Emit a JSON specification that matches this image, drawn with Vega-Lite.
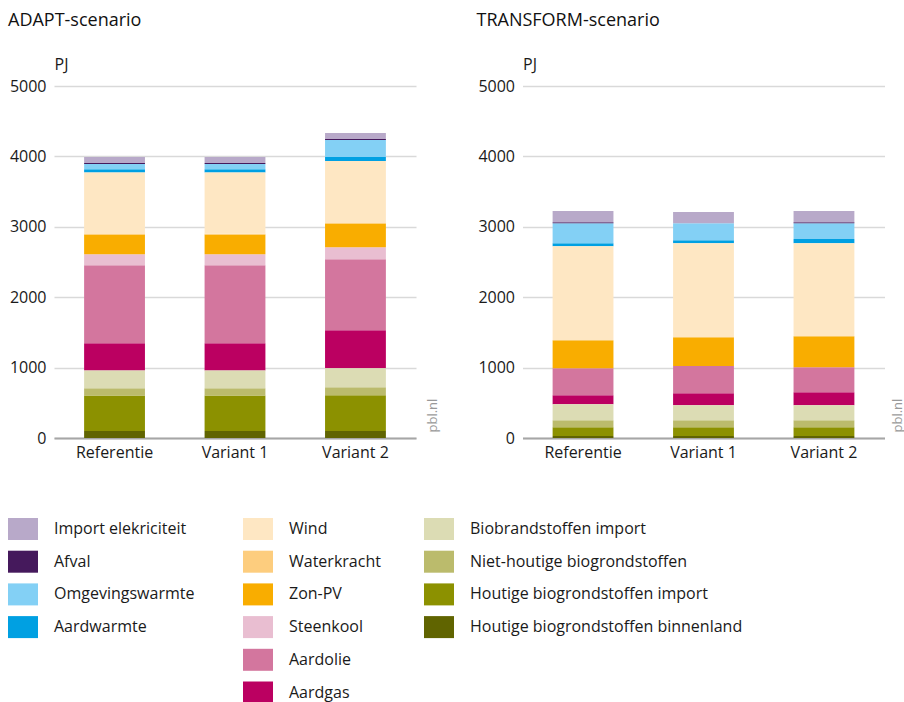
{
  "$schema": "https://vega.github.io/schema/vega-lite/v6.json",
  "padding": {"left": 8, "top": 12, "right": 0, "bottom": 0},
  "bounds": "flush",
  "spacing": 106.5,
  "config": {"font": "Open Sans", "view": {"stroke": null}, "text": {"font": "Open Sans"}},
  "data": {"values": [
    {"scenario": "ADAPT", "variant": "Referentie", "bron": "Houtige biogrondstoffen binnenland", "waarde": 100},
    {"scenario": "ADAPT", "variant": "Referentie", "bron": "Houtige biogrondstoffen import", "waarde": 505},
    {"scenario": "ADAPT", "variant": "Referentie", "bron": "Niet-houtige biogrondstoffen", "waarde": 100},
    {"scenario": "ADAPT", "variant": "Referentie", "bron": "Biobrandstoffen import", "waarde": 255},
    {"scenario": "ADAPT", "variant": "Referentie", "bron": "Aardgas", "waarde": 385},
    {"scenario": "ADAPT", "variant": "Referentie", "bron": "Aardolie", "waarde": 1110},
    {"scenario": "ADAPT", "variant": "Referentie", "bron": "Steenkool", "waarde": 155},
    {"scenario": "ADAPT", "variant": "Referentie", "bron": "Zon-PV", "waarde": 280},
    {"scenario": "ADAPT", "variant": "Referentie", "bron": "Waterkracht", "waarde": 8},
    {"scenario": "ADAPT", "variant": "Referentie", "bron": "Wind", "waarde": 875},
    {"scenario": "ADAPT", "variant": "Referentie", "bron": "Aardwarmte", "waarde": 45},
    {"scenario": "ADAPT", "variant": "Referentie", "bron": "Omgevingswarmte", "waarde": 75},
    {"scenario": "ADAPT", "variant": "Referentie", "bron": "Afval", "waarde": 15},
    {"scenario": "ADAPT", "variant": "Referentie", "bron": "Import elekriciteit", "waarde": 85},
    {"scenario": "ADAPT", "variant": "Variant 1", "bron": "Houtige biogrondstoffen binnenland", "waarde": 100},
    {"scenario": "ADAPT", "variant": "Variant 1", "bron": "Houtige biogrondstoffen import", "waarde": 505},
    {"scenario": "ADAPT", "variant": "Variant 1", "bron": "Niet-houtige biogrondstoffen", "waarde": 100},
    {"scenario": "ADAPT", "variant": "Variant 1", "bron": "Biobrandstoffen import", "waarde": 255},
    {"scenario": "ADAPT", "variant": "Variant 1", "bron": "Aardgas", "waarde": 385},
    {"scenario": "ADAPT", "variant": "Variant 1", "bron": "Aardolie", "waarde": 1110},
    {"scenario": "ADAPT", "variant": "Variant 1", "bron": "Steenkool", "waarde": 155},
    {"scenario": "ADAPT", "variant": "Variant 1", "bron": "Zon-PV", "waarde": 280},
    {"scenario": "ADAPT", "variant": "Variant 1", "bron": "Waterkracht", "waarde": 10},
    {"scenario": "ADAPT", "variant": "Variant 1", "bron": "Wind", "waarde": 873},
    {"scenario": "ADAPT", "variant": "Variant 1", "bron": "Aardwarmte", "waarde": 45},
    {"scenario": "ADAPT", "variant": "Variant 1", "bron": "Omgevingswarmte", "waarde": 75},
    {"scenario": "ADAPT", "variant": "Variant 1", "bron": "Afval", "waarde": 15},
    {"scenario": "ADAPT", "variant": "Variant 1", "bron": "Import elekriciteit", "waarde": 85},
    {"scenario": "ADAPT", "variant": "Variant 2", "bron": "Houtige biogrondstoffen binnenland", "waarde": 100},
    {"scenario": "ADAPT", "variant": "Variant 2", "bron": "Houtige biogrondstoffen import", "waarde": 507},
    {"scenario": "ADAPT", "variant": "Variant 2", "bron": "Niet-houtige biogrondstoffen", "waarde": 113},
    {"scenario": "ADAPT", "variant": "Variant 2", "bron": "Biobrandstoffen import", "waarde": 270},
    {"scenario": "ADAPT", "variant": "Variant 2", "bron": "Aardgas", "waarde": 541},
    {"scenario": "ADAPT", "variant": "Variant 2", "bron": "Aardolie", "waarde": 1009},
    {"scenario": "ADAPT", "variant": "Variant 2", "bron": "Steenkool", "waarde": 171},
    {"scenario": "ADAPT", "variant": "Variant 2", "bron": "Zon-PV", "waarde": 335},
    {"scenario": "ADAPT", "variant": "Variant 2", "bron": "Waterkracht", "waarde": 8},
    {"scenario": "ADAPT", "variant": "Variant 2", "bron": "Wind", "waarde": 880},
    {"scenario": "ADAPT", "variant": "Variant 2", "bron": "Aardwarmte", "waarde": 56},
    {"scenario": "ADAPT", "variant": "Variant 2", "bron": "Omgevingswarmte", "waarde": 242},
    {"scenario": "ADAPT", "variant": "Variant 2", "bron": "Afval", "waarde": 14},
    {"scenario": "ADAPT", "variant": "Variant 2", "bron": "Import elekriciteit", "waarde": 86},
    {"scenario": "TRANSFORM", "variant": "Referentie", "bron": "Houtige biogrondstoffen binnenland", "waarde": 30},
    {"scenario": "TRANSFORM", "variant": "Referentie", "bron": "Houtige biogrondstoffen import", "waarde": 122},
    {"scenario": "TRANSFORM", "variant": "Referentie", "bron": "Niet-houtige biogrondstoffen", "waarde": 99},
    {"scenario": "TRANSFORM", "variant": "Referentie", "bron": "Biobrandstoffen import", "waarde": 228},
    {"scenario": "TRANSFORM", "variant": "Referentie", "bron": "Aardgas", "waarde": 128},
    {"scenario": "TRANSFORM", "variant": "Referentie", "bron": "Aardolie", "waarde": 383},
    {"scenario": "TRANSFORM", "variant": "Referentie", "bron": "Zon-PV", "waarde": 399},
    {"scenario": "TRANSFORM", "variant": "Referentie", "bron": "Wind", "waarde": 1336},
    {"scenario": "TRANSFORM", "variant": "Referentie", "bron": "Aardwarmte", "waarde": 43},
    {"scenario": "TRANSFORM", "variant": "Referentie", "bron": "Omgevingswarmte", "waarde": 284},
    {"scenario": "TRANSFORM", "variant": "Referentie", "bron": "Afval", "waarde": 14},
    {"scenario": "TRANSFORM", "variant": "Referentie", "bron": "Import elekriciteit", "waarde": 157},
    {"scenario": "TRANSFORM", "variant": "Variant 1", "bron": "Houtige biogrondstoffen binnenland", "waarde": 30},
    {"scenario": "TRANSFORM", "variant": "Variant 1", "bron": "Houtige biogrondstoffen import", "waarde": 122},
    {"scenario": "TRANSFORM", "variant": "Variant 1", "bron": "Niet-houtige biogrondstoffen", "waarde": 99},
    {"scenario": "TRANSFORM", "variant": "Variant 1", "bron": "Biobrandstoffen import", "waarde": 213},
    {"scenario": "TRANSFORM", "variant": "Variant 1", "bron": "Aardgas", "waarde": 171},
    {"scenario": "TRANSFORM", "variant": "Variant 1", "bron": "Aardolie", "waarde": 389},
    {"scenario": "TRANSFORM", "variant": "Variant 1", "bron": "Zon-PV", "waarde": 407},
    {"scenario": "TRANSFORM", "variant": "Variant 1", "bron": "Wind", "waarde": 1337},
    {"scenario": "TRANSFORM", "variant": "Variant 1", "bron": "Aardwarmte", "waarde": 42},
    {"scenario": "TRANSFORM", "variant": "Variant 1", "bron": "Omgevingswarmte", "waarde": 242},
    {"scenario": "TRANSFORM", "variant": "Variant 1", "bron": "Import elekriciteit", "waarde": 157},
    {"scenario": "TRANSFORM", "variant": "Variant 2", "bron": "Houtige biogrondstoffen binnenland", "waarde": 30},
    {"scenario": "TRANSFORM", "variant": "Variant 2", "bron": "Houtige biogrondstoffen import", "waarde": 122},
    {"scenario": "TRANSFORM", "variant": "Variant 2", "bron": "Niet-houtige biogrondstoffen", "waarde": 99},
    {"scenario": "TRANSFORM", "variant": "Variant 2", "bron": "Biobrandstoffen import", "waarde": 213},
    {"scenario": "TRANSFORM", "variant": "Variant 2", "bron": "Aardgas", "waarde": 185},
    {"scenario": "TRANSFORM", "variant": "Variant 2", "bron": "Aardolie", "waarde": 356},
    {"scenario": "TRANSFORM", "variant": "Variant 2", "bron": "Zon-PV", "waarde": 440},
    {"scenario": "TRANSFORM", "variant": "Variant 2", "bron": "Wind", "waarde": 1323},
    {"scenario": "TRANSFORM", "variant": "Variant 2", "bron": "Aardwarmte", "waarde": 57},
    {"scenario": "TRANSFORM", "variant": "Variant 2", "bron": "Omgevingswarmte", "waarde": 227},
    {"scenario": "TRANSFORM", "variant": "Variant 2", "bron": "Afval", "waarde": 14},
    {"scenario": "TRANSFORM", "variant": "Variant 2", "bron": "Import elekriciteit", "waarde": 157}
  ]},
  "hconcat": [
    {
      "width": 362,
      "height": 352,
      "title": {"text": "ADAPT-scenario", "anchor": "start", "frame": "group", "dx": -46, "fontSize": 18, "fontWeight": "normal", "color": "#111111", "offset": 26},
      "transform": [
        {"filter": "datum.scenario === 'ADAPT'"},
        {"stack": "waarde", "groupby": ["variant"], "as": ["y0", "y1"]}
      ],
      "encoding": {
        "x": {"field": "variant", "type": "nominal", "sort": ["Referentie", "Variant 1", "Variant 2"],
          "scale": {"paddingInner": 0.495, "paddingOuter": 0.25},
          "axis": {"title": null, "labelAngle": 0, "ticks": false, "domainColor": "#a6a6a6", "domainWidth": 2, "labelFontSize": 16, "labelPadding": 6, "labelColor": "#1a1a1a"}}
      },
      "layer": [
        {
          "transform": [{"filter": {"field": "bron", "oneOf": ["Import elekriciteit", "Afval", "Omgevingswarmte", "Aardwarmte"]}}],
          "mark": {"type": "bar"},
          "encoding": {
            "y": {"field": "y0", "type": "quantitative", "scale": {"domain": [0, 5000]},
              "axis": {"title": "PJ", "titleAngle": 0, "titleX": 0, "titleY": -17, "titleAlign": "left", "titleBaseline": "alphabetic", "titleFontSize": 16, "titleFontWeight": "normal", "titleColor": "#1a1a1a",
                "values": [0, 1000, 2000, 3000, 4000, 5000], "format": "d", "labelFontSize": 16, "labelColor": "#1a1a1a", "ticks": false, "tickSize": 0, "domain": false, "labelPadding": 8, "gridColor": "#d9d9d9", "gridWidth": 1.5}},
            "y2": {"field": "y1"},
            "color": {"field": "bron", "type": "nominal",
              "scale": {"domain": ["Import elekriciteit", "Afval", "Omgevingswarmte", "Aardwarmte"], "range": ["#b8a9c9", "#45195c", "#83d0f5", "#00a0e2"]},
              "legend": {"orient": "none", "legendX": -42, "legendY": 432, "title": null, "symbolType": "M-1.364,-1H1.364V1H-1.364Z", "symbolSize": 484, "symbolStrokeWidth": 0, "symbolOpacity": 1, "labelFontSize": 16, "labelColor": "#1a1a1a", "labelOffset": 20, "rowPadding": 10.7, "labelLimit": 400}}
          }
        },
        {
          "transform": [{"filter": {"field": "bron", "oneOf": ["Wind", "Waterkracht", "Zon-PV", "Steenkool", "Aardolie", "Aardgas"]}}],
          "mark": {"type": "bar"},
          "encoding": {
            "y": {"field": "y0", "type": "quantitative", "scale": {"domain": [0, 5000]},
              "axis": {"orient": "right", "title": "pbl.nl", "labels": false, "ticks": false, "domain": false, "grid": false, "titleAngle": 270, "titleX": 16, "titleY": 346, "titleAlign": "left", "titleBaseline": "middle", "titleFontSize": 13, "titleFontWeight": "normal", "titleColor": "#999999"}},
            "y2": {"field": "y1"},
            "color": {"field": "bron", "type": "nominal",
              "scale": {"domain": ["Wind", "Waterkracht", "Zon-PV", "Steenkool", "Aardolie", "Aardgas"], "range": ["#fee7c3", "#fdcd7e", "#f9ad00", "#e9bed1", "#d3769e", "#bb0061"]},
              "legend": {"orient": "none", "legendX": 193, "legendY": 432, "title": null, "symbolType": "M-1.364,-1H1.364V1H-1.364Z", "symbolSize": 484, "symbolStrokeWidth": 0, "symbolOpacity": 1, "labelFontSize": 16, "labelColor": "#1a1a1a", "labelOffset": 20, "rowPadding": 10.7, "labelLimit": 400}}
          }
        },
        {
          "transform": [{"filter": {"field": "bron", "oneOf": ["Biobrandstoffen import", "Niet-houtige biogrondstoffen", "Houtige biogrondstoffen import", "Houtige biogrondstoffen binnenland"]}}],
          "mark": {"type": "bar"},
          "encoding": {
            "y": {"field": "y0", "type": "quantitative", "scale": {"domain": [0, 5000]}, "axis": null},
            "y2": {"field": "y1"},
            "color": {"field": "bron", "type": "nominal",
              "scale": {"domain": ["Biobrandstoffen import", "Niet-houtige biogrondstoffen", "Houtige biogrondstoffen import", "Houtige biogrondstoffen binnenland"], "range": ["#dcdcb4", "#bbbb6c", "#8c9100", "#606400"]},
              "legend": {"orient": "none", "legendX": 374, "legendY": 432, "title": null, "symbolType": "M-1.364,-1H1.364V1H-1.364Z", "symbolSize": 484, "symbolStrokeWidth": 0, "symbolOpacity": 1, "labelFontSize": 16, "labelColor": "#1a1a1a", "labelOffset": 20, "rowPadding": 10.7, "labelLimit": 400}}
          }
        }
      ],
      "resolve": {"scale": {"color": "independent"}, "axis": {"y": "independent"}}
    },
    {
      "width": 362,
      "height": 352,
      "title": {"text": "TRANSFORM-scenario", "anchor": "start", "frame": "group", "dx": -46, "fontSize": 18, "fontWeight": "normal", "color": "#111111", "offset": 26},
      "transform": [
        {"filter": "datum.scenario === 'TRANSFORM'"},
        {"stack": "waarde", "groupby": ["variant"], "as": ["y0", "y1"]}
      ],
      "encoding": {
        "x": {"field": "variant", "type": "nominal", "sort": ["Referentie", "Variant 1", "Variant 2"],
          "scale": {"paddingInner": 0.495, "paddingOuter": 0.25},
          "axis": {"title": null, "labelAngle": 0, "ticks": false, "domainColor": "#a6a6a6", "domainWidth": 2, "labelFontSize": 16, "labelPadding": 6, "labelColor": "#1a1a1a"}}
      },
      "layer": [
        {
          "transform": [{"filter": {"field": "bron", "oneOf": ["Import elekriciteit", "Afval", "Omgevingswarmte", "Aardwarmte"]}}],
          "mark": {"type": "bar"},
          "encoding": {
            "y": {"field": "y0", "type": "quantitative", "scale": {"domain": [0, 5000]},
              "axis": {"title": "PJ", "titleAngle": 0, "titleX": 0, "titleY": -17, "titleAlign": "left", "titleBaseline": "alphabetic", "titleFontSize": 16, "titleFontWeight": "normal", "titleColor": "#1a1a1a",
                "values": [0, 1000, 2000, 3000, 4000, 5000], "format": "d", "labelFontSize": 16, "labelColor": "#1a1a1a", "ticks": false, "tickSize": 0, "domain": false, "labelPadding": 8, "gridColor": "#d9d9d9", "gridWidth": 1.5}},
            "y2": {"field": "y1"},
            "color": {"field": "bron", "type": "nominal",
              "scale": {"domain": ["Import elekriciteit", "Afval", "Omgevingswarmte", "Aardwarmte"], "range": ["#b8a9c9", "#45195c", "#83d0f5", "#00a0e2"]},
              "legend": null}
          }
        },
        {
          "transform": [{"filter": {"field": "bron", "oneOf": ["Wind", "Waterkracht", "Zon-PV", "Steenkool", "Aardolie", "Aardgas"]}}],
          "mark": {"type": "bar"},
          "encoding": {
            "y": {"field": "y0", "type": "quantitative", "scale": {"domain": [0, 5000]},
              "axis": {"orient": "right", "title": "pbl.nl", "labels": false, "ticks": false, "domain": false, "grid": false, "titleAngle": 270, "titleX": 12.5, "titleY": 346, "titleAlign": "left", "titleBaseline": "middle", "titleFontSize": 13, "titleFontWeight": "normal", "titleColor": "#999999"}},
            "y2": {"field": "y1"},
            "color": {"field": "bron", "type": "nominal",
              "scale": {"domain": ["Wind", "Waterkracht", "Zon-PV", "Steenkool", "Aardolie", "Aardgas"], "range": ["#fee7c3", "#fdcd7e", "#f9ad00", "#e9bed1", "#d3769e", "#bb0061"]},
              "legend": null}
          }
        },
        {
          "transform": [{"filter": {"field": "bron", "oneOf": ["Biobrandstoffen import", "Niet-houtige biogrondstoffen", "Houtige biogrondstoffen import", "Houtige biogrondstoffen binnenland"]}}],
          "mark": {"type": "bar"},
          "encoding": {
            "y": {"field": "y0", "type": "quantitative", "scale": {"domain": [0, 5000]}, "axis": null},
            "y2": {"field": "y1"},
            "color": {"field": "bron", "type": "nominal",
              "scale": {"domain": ["Biobrandstoffen import", "Niet-houtige biogrondstoffen", "Houtige biogrondstoffen import", "Houtige biogrondstoffen binnenland"], "range": ["#dcdcb4", "#bbbb6c", "#8c9100", "#606400"]},
              "legend": null}
          }
        }
      ],
      "resolve": {"scale": {"color": "independent"}, "axis": {"y": "independent"}}
    }
  ],
  "resolve": {"scale": {"color": "independent", "y": "independent", "x": "independent"}}
}
